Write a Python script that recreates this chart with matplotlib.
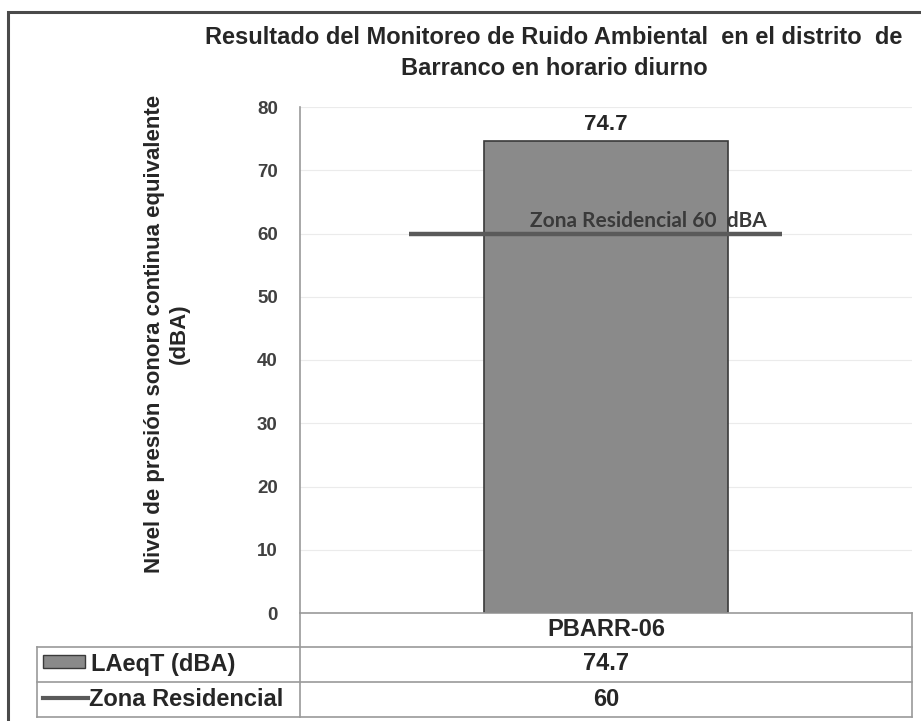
import matplotlib.pyplot as plt
from matplotlib.patches import Rectangle
from matplotlib.lines import Line2D

# data
categories = ['PBARR-06']
laeqt = [74.7]
zona_residencial = [60]
series_names = ['LAeqT (dBA)', 'Zona Residencial']
yticks = [0, 10, 20, 30, 40, 50, 60, 70, 80]

title = 'Resultado del Monitoreo de Ruido Ambiental  en el distrito  de\nBarranco en horario diurno'
ylabel = 'Nivel de presión sonora continua equivalente\n(dBA)'
line_label = 'Zona Residencial 60  dBA'

W, H = 921, 721
bar_color = '#8a8a8a'
line_color = '#5a5a5a'
txt = '#262626'

plt.rcParams['font.family'] = ['Liberation Sans', 'DejaVu Sans']

fig = plt.figure(figsize=(W / 100, H / 100), dpi=100)


def fx(px):
    return px / W


def fy(py):
    return 1 - py / H


# axes placed by pixel box
L, R, T, B = 300, 912, 107, 613
ax = fig.add_axes([fx(L), fy(B), fx(R - L), (B - T) / H])

x = list(range(len(categories)))
ax.bar(x, laeqt, width=0.40, color=bar_color, edgecolor='#3a3a3a', lw=1.2, zorder=2)
for xi, v in zip(x, zona_residencial):
    ax.hlines(v, xi - 0.322, xi + 0.288, color=line_color, lw=3.2, zorder=3)
    ax.text(xi + 0.07, v + 1.0, line_label, ha='center', va='baseline', fontsize=15,
            fontweight='bold', color='#3a3a3a', family=['Lato', 'DejaVu Sans'], zorder=4)
for xi, v in zip(x, laeqt):
    ax.text(xi, v + 0.9, f'{v:.1f}', ha='center', va='bottom', fontsize=16,
            fontweight='bold', color=txt)

ax.set_xlim(-0.5, len(categories) - 0.5)
ax.set_ylim(0, 80)
ax.set_yticks(yticks)
ax.set_yticklabels([str(t) for t in yticks], fontsize=13.5, fontweight='bold', color='#404040')
ax.tick_params(axis='y', length=0, pad=16)
ax.set_xticks([])
ax.grid(axis='y', color='#ebebeb', lw=0.8, zorder=0)
for s in ['top', 'right', 'bottom']:
    ax.spines[s].set_visible(False)
ax.spines['left'].set_color('#9a9a9a')
ax.spines['left'].set_linewidth(1.2)

fig.text(fx(167), fy(334), ylabel, rotation=90, ha='center', va='center',
         fontsize=16, fontweight='bold', color=txt, linespacing=1.2)

fig.text(fx(554), fy(53), title, ha='center', va='center', fontsize=17,
         fontweight='bold', color=txt, linespacing=1.4)

# outer border (right and bottom run off the picture)
fig.patches.append(Rectangle((fx(8), fy(730)), fx(930), (730 - 12) / H,
                             transform=fig.transFigure, fill=False,
                             edgecolor='#4a4a4a', lw=2.2))

# data table below the axis
rows_y = [613, 647, 682, 717]
gc = '#9a9a9a'
tl = 37


def hline(y, x0, x1):
    fig.add_artist(Line2D([fx(x0), fx(x1)], [fy(y), fy(y)], color=gc, lw=1.2))


def vline(xp, y0, y1):
    fig.add_artist(Line2D([fx(xp), fx(xp)], [fy(y0), fy(y1)], color=gc, lw=1.2))


hline(rows_y[0], L, R)
for y in rows_y[1:]:
    hline(y, tl, R)
vline(L, rows_y[0], rows_y[3])
vline(R, rows_y[0], rows_y[3])
vline(tl, rows_y[1], rows_y[3])

cx = (L + R) / 2
fig.text(fx(cx), fy(629), categories[0], ha='center', va='center',
         fontsize=17, fontweight='bold', color=txt)
fig.text(fx(cx), fy(664), f'{laeqt[0]:.1f}', ha='center', va='center',
         fontsize=17, fontweight='bold', color=txt)
fig.text(fx(cx), fy(699), f'{zona_residencial[0]}', ha='center',
         va='center', fontsize=17, fontweight='bold', color=txt)

# legend keys in the row headers
fig.patches.append(Rectangle((fx(43), fy(668)), fx(42), 13 / H, transform=fig.transFigure,
                             facecolor=bar_color, edgecolor='#3a3a3a', lw=1))
fig.add_artist(Line2D([fx(43), fx(88)], [fy(698), fy(698)], color=line_color, lw=3))
fig.text(fx(91), fy(664), series_names[0], ha='left', va='center', fontsize=17,
         fontweight='bold', color=txt)
fig.text(fx(89), fy(699), series_names[1], ha='left', va='center', fontsize=17,
         fontweight='bold', color=txt)

fig.savefig('out.png', dpi=100, facecolor='white')
